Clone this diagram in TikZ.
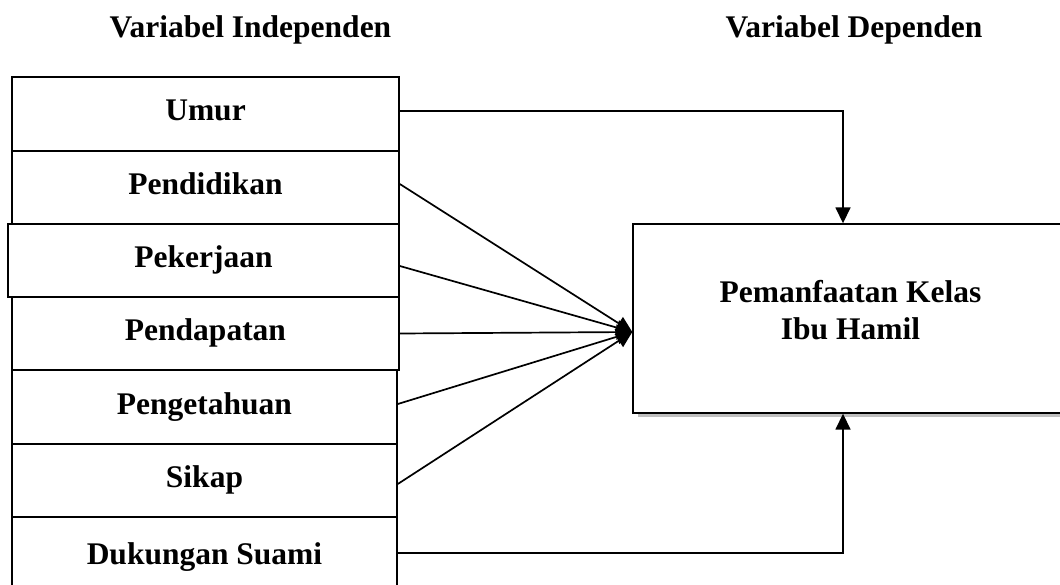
\documentclass[tikz,border=0pt]{standalone}
\usepackage{fontspec}
\setmainfont{Liberation Serif}
\usetikzlibrary{arrows.meta,shadows}
\begin{document}
\begin{tikzpicture}[x=1pt,y=-1pt,
  lbl/.style={font=\fontsize{31.5}{37}\selectfont\bfseries},
  varbox/.style={lbl, draw, line width=1.6pt, inner sep=0pt, text height=21pt, text depth=7pt},
  conn/.style={line width=1.7pt, -{Triangle[length=16pt,width=15pt]}}
]
\useasboundingbox (0,0) rectangle (1060,585);
\clip (0,0) rectangle (1060,585);
\fill[white] (0,0) rectangle (1060,585);

% titles
\node[lbl, anchor=base, inner sep=0pt] (tind) at (250.5,38) {Variabel Independen};
\node[lbl, anchor=base, inner sep=0pt] (tdep) at (854,38) {Variabel Dependen};

% independent variable boxes
\node[varbox, minimum width=387pt, minimum height=74pt] (umur) at (205.5,114) {Umur};
\node[varbox, minimum width=387pt, minimum height=73pt] (pend) at (205.5,187.5) {Pendidikan};
\node[varbox, minimum width=391pt, minimum height=73pt] (pek) at (203.5,260.5) {Pekerjaan};
\node[varbox, minimum width=387pt, minimum height=73pt] (pdp) at (205.5,333.5) {Pendapatan};
\node[varbox, minimum width=385pt, minimum height=74pt] (peng) at (204.5,407) {Pengetahuan};
\node[varbox, minimum width=385pt, minimum height=73pt] (sikap) at (204.5,480.5) {Sikap};
\node[varbox, minimum width=385pt, minimum height=80pt] (duk) at (204.5,557) {Dukungan Suami};

% dependent variable box
\node[draw, line width=1.4pt, fill=white, minimum width=433pt, minimum height=189pt,
  drop shadow={shadow xshift=5pt, shadow yshift=-4pt, fill=black!25, opacity=1}] (dep) at (849.5,318.5) {};
\node[lbl, align=center, anchor=north, inner sep=0pt] (deplbl) at (850.5,280) {Pemanfaatan Kelas\\Ibu Hamil};

% connectors
\coordinate (tip) at ([yshift=-13.5pt]dep.west);
\draw[conn] ([yshift=3pt]umur.east) -| ([xshift=-6.5pt]dep.north);
\draw[conn] ([yshift=3.5pt]pend.east) -- (tip);
\draw[conn] ([yshift=-5.5pt]pek.east) -- (tip);
\draw[conn] (pdp.east) -- (tip);
\draw[conn] ([yshift=3pt]peng.east) -- (tip);
\draw[conn] ([yshift=-3.5pt]sikap.east) -- (tip);
\draw[conn] ([yshift=4pt]duk.east) -| ([xshift=-6.5pt]dep.south);
\end{tikzpicture}
\end{document}
